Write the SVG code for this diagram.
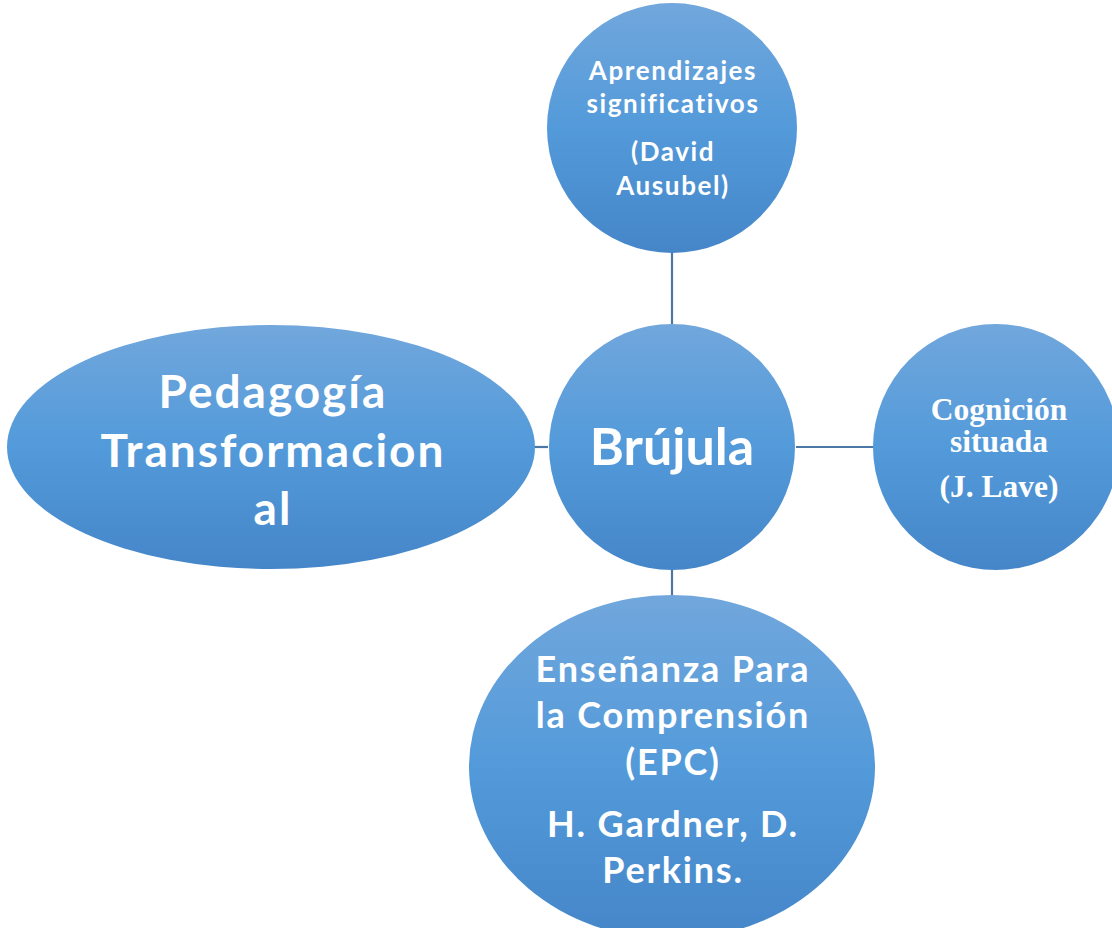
<svg xmlns="http://www.w3.org/2000/svg" width="1112" height="928" viewBox="0 0 1112 928">
<defs>
<linearGradient id="g" x1="0" y1="0" x2="0" y2="1">
<stop offset="0" stop-color="#71a7dc"/>
<stop offset="0.5" stop-color="#539ada"/>
<stop offset="1" stop-color="#4586c9"/>
</linearGradient>
<style>
.n{fill:url(#g);}
.t{fill:#ffffff;font-family:Lato,"Open Sans",sans-serif;font-weight:bold;text-anchor:middle;font-variant-ligatures:none;}
.s{fill:#ffffff;font-family:"Liberation Serif","Times New Roman",serif;font-weight:bold;text-anchor:middle;}
.c{stroke:#4a77a6;stroke-width:2.2;fill:none;}
</style>
</defs>
<rect width="1112" height="928" fill="#ffffff"/>
<g id="connectors">
<line class="c" x1="672" y1="250" x2="672" y2="326"/>
<line class="c" x1="672" y1="568" x2="672" y2="598"/>
<line class="c" x1="534" y1="447" x2="548" y2="447"/>
<line class="c" x1="796" y1="447" x2="874" y2="447"/>
</g>
<g id="top">
<circle class="n" cx="672" cy="128" r="125"/>
<text class="t" font-size="26" letter-spacing="1.6"><tspan x="673" y="80">Aprendizajes</tspan><tspan x="673" y="113">significativos</tspan><tspan x="673" y="161">(David</tspan><tspan x="673" y="195">Ausubel)</tspan></text>
</g>
<g id="center">
<circle class="n" cx="672" cy="447" r="123"/>
<text class="t" font-size="52" x="672" y="465">Brújula</text>
</g>
<g id="left">
<ellipse class="n" cx="271" cy="447" rx="264" ry="122"/>
<text class="t" font-size="46" letter-spacing="2"><tspan x="273" y="408">Pedagogía</tspan><tspan x="273" y="467">Transformacion</tspan><tspan x="273" y="525">al</tspan></text>
</g>
<g id="right">
<circle class="n" cx="996" cy="447" r="123"/>
<text class="s" font-size="31.5"><tspan x="999" y="420">Cognición</tspan><tspan x="999" y="452">situada</tspan><tspan x="999" y="497">(J. Lave)</tspan></text>
</g>
<g id="bottom">
<ellipse class="n" cx="672" cy="767" rx="203" ry="172"/>
<text class="t" font-size="36" letter-spacing="1.8"><tspan x="673" y="682">Enseñanza Para</tspan><tspan x="673" y="728">la Comprensión</tspan><tspan x="673" y="775">(EPC)</tspan><tspan x="673" y="837">H. Gardner, D.</tspan><tspan x="673" y="883">Perkins.</tspan></text>
</g>
</svg>
